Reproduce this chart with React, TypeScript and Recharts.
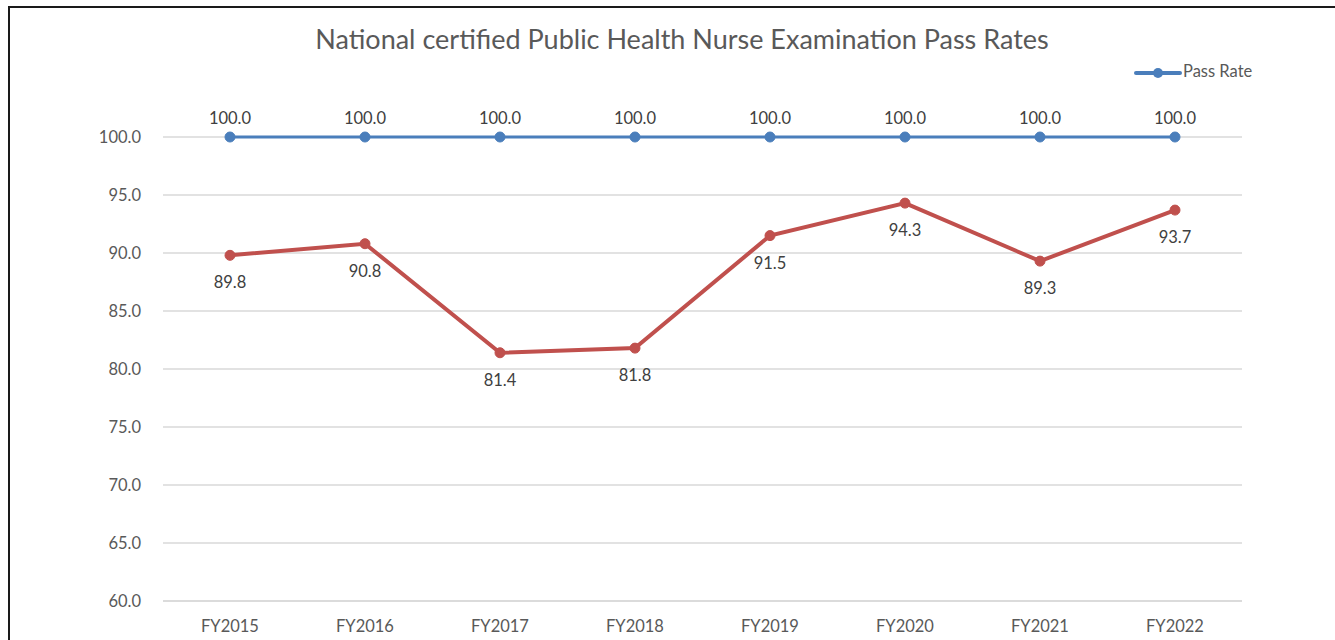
import { LineChart, Line, XAxis, YAxis, CartesianGrid } from 'recharts'

const years = ['FY2015', 'FY2016', 'FY2017', 'FY2018', 'FY2019', 'FY2020', 'FY2021', 'FY2022']
const passRate = [100.0, 100.0, 100.0, 100.0, 100.0, 100.0, 100.0, 100.0]
const examRate = [89.8, 90.8, 81.4, 81.8, 91.5, 94.3, 89.3, 93.7]
const yTicks = [60, 65, 70, 75, 80, 85, 90, 95, 100]

const data = years.map((y, i) => ({ year: y, pass: passRate[i], exam: examRate[i] }))

const font = 'Lato, "Open Sans", sans-serif'
const BLUE = '#4a7ebb'
const RED = '#c0504d'
const FS = 16.5

const labelAbove = (p: any) => (
  <text x={p.x} y={p.y - 17} textAnchor="middle" dominantBaseline="middle" fontSize={FS} fill="#404040" fontFamily={font}>
    {Number(p.value).toFixed(1)}
  </text>
)

const labelBelow = (p: any) => (
  <text x={p.x} y={p.y + 29} textAnchor="middle" dominantBaseline="middle" fontSize={FS} fill="#404040" fontFamily={font}>
    {Number(p.value).toFixed(1)}
  </text>
)

export default function App() {
  return (
    <div style={{ position: 'absolute', left: 0, top: 0, width: 1335, height: 640, overflow: 'hidden', background: '#fff' }}>
      <style>{'body{margin:0}'}</style>
      <div style={{ position: 'absolute', left: 8, top: 6, width: 1400, height: 700, borderLeft: '2px solid #1a1a1a', borderTop: '2px solid #1a1a1a' }} />
      <div style={{ position: 'absolute', left: 0, top: 0 }}>
        <LineChart width={1335} height={640} data={data} margin={{ top: 137, right: 93, left: 103, bottom: 9 }}>
          <text x={682} y={42} textAnchor="middle" dominantBaseline="middle" fontSize={27} fill="#595959" fontFamily={font}>
            National certified Public Health Nurse Examination Pass Rates
          </text>
          <CartesianGrid vertical={false} stroke="#d9d9d9" strokeWidth={1.5} />
          <XAxis
            dataKey="year"
            height={30}
            padding={{ left: 67, right: 67 }}
            axisLine={{ stroke: '#d9d9d9', strokeWidth: 1.5 }}
            tickLine={false}
            tickSize={0}
            tickMargin={19}
            tick={{ fontSize: FS, fill: '#595959', fontFamily: font }}
          />
          <YAxis
            width={60}
            domain={[60, 100]}
            ticks={yTicks}
            interval={0}
            axisLine={false}
            tickLine={false}
            tickSize={0}
            tickMargin={22}
            tickFormatter={(v: number) => v.toFixed(1)}
            tick={{ fontSize: FS, fill: '#595959', fontFamily: font }}
          />
          <Line
            dataKey="pass"
            name="Pass Rate"
            stroke={BLUE}
            strokeWidth={3}
            dot={{ r: 5, fill: BLUE, stroke: BLUE, strokeWidth: 1 }}
            activeDot={false}
            label={labelAbove}
            isAnimationActive={false}
          />
          <Line
            dataKey="exam"
            legendType="none"
            stroke={RED}
            strokeWidth={4}
            dot={{ r: 5, fill: RED, stroke: RED, strokeWidth: 1 }}
            activeDot={false}
            label={labelBelow}
            isAnimationActive={false}
          />
        </LineChart>
      </div>
      <div style={{ position: 'absolute', left: 1134, top: 63 }}>
        <svg width={180} height={22} style={{ display: 'block', overflow: 'visible' }}>
          <line x1={2} y1={10} x2={46} y2={10} stroke={BLUE} strokeWidth={4} strokeLinecap="round" />
          <circle cx={24} cy={10} r={5} fill={BLUE} />
          <text x={49} y={10} dominantBaseline="middle" fontSize={FS} fill="#595959" fontFamily={font}>Pass Rate</text>
        </svg>
      </div>
    </div>
  )
}
